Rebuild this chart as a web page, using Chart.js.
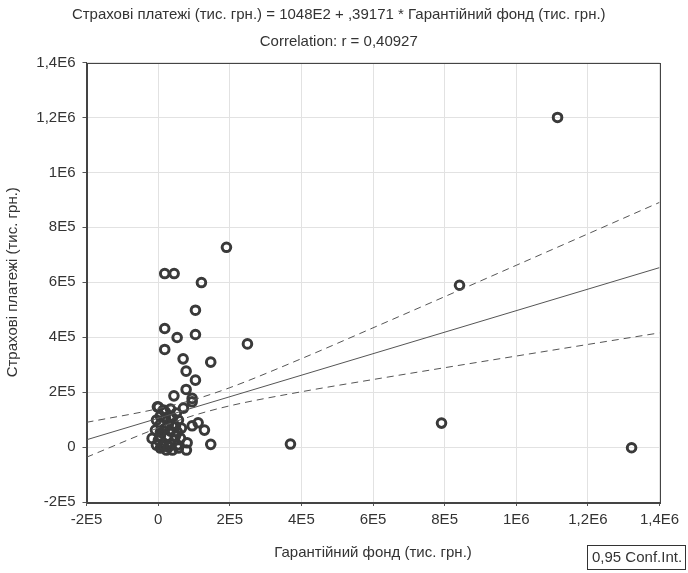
<!DOCTYPE html>
<html>
<head>
<meta charset="utf-8">
<script src="https://cdn.jsdelivr.net/npm/chart.js@4"></script>
<style>
  html, body { margin: 0; padding: 0; background: #fff; }
</style>
</head>
<body>
<canvas id="scatter" width="688" height="573"></canvas>
<script>
// Гарантійний фонд (x) vs Страхові платежі (y), thousand UAH
var fundX = [1115300, 841600, 791300, 1322000, 369500, 249400, 190800, 18400, 44700, 120900,
  104200, 18400, 53100, 104200, 18400, 69800, 146900, 78200, 104200, 78200,
  44100, 95000, 95000, 70700, -2000, 95000, 111700, 129300, 146900, -16800,
  81000, 800, 14800, 34400, 51100, 6400, 20400, 39900, 56700, 6400,
  28800, 48300, 12000, 34400, 53900, 62300, 6400, 26000, 45500, 14800,
  34400, 53900, 79000, 6400, 23200, 39900, 56700, 12000, -4700, 800,
  20400, -7500, 20400, 39900, 6400, 48300, 28800, -4700, 65100, 34400];
var paymentsY = [1200000, 589000, 87300, -2500, 10900, 375600, 727300, 631600, 631600, 598900,
  498200, 431600, 398900, 409800, 355300, 321100, 309100, 276400, 243600, 209800,
  186500, 177100, 164700, 141800, 146500, 77500, 88400, 61800, 9800, 31600,
  15600, 145400, 134500, 138200, 123600, 112700, 105400, 105400, 98200, 83600,
  83600, 76400, 61800, 58200, 54500, 32700, 40000, 36400, 25500, 14500,
  10900, 7300, -10900, -3600, -10900, -10900, -3600, 3600, 7300, 25500,
  69100, 61800, 127300, 80000, 54500, 40000, 0, 98200, 69100, 112700];

// regression from the title: y = 1048E2 + ,39171 * x
var intercept = 104800;
var slope = 0.39171;

// 0,95 confidence band
var bandX = [-200000, 0, 100000, 200000, 400000, 600000, 800000, 1000000, 1200000, 1400000];
var upperY = [90000, 139800, 172700, 216100, 321700, 434000, 547500, 661700, 776100, 890700];
var lowerY = [-37000, 69800, 115300, 150100, 201300, 245800, 288900, 331300, 373600, 415700];

var xTickLabels = ["-2E5", "0", "2E5", "4E5", "6E5", "8E5", "1E6", "1,2E6", "1,4E6"];
var yTickLabels = ["-2E5", "0", "2E5", "4E5", "6E5", "8E5", "1E6", "1,2E6", "1,4E6"];

var textColor = "#333";
var fontFamily = "'Liberation Sans', Arial, sans-serif";
var font15 = { family: fontFamily, size: 15 };

var points = fundX.map(function (x, i) { return { x: x, y: paymentsY[i] }; });
var upper = bandX.map(function (x, i) { return { x: x, y: upperY[i] }; });
var lower = bandX.map(function (x, i) { return { x: x, y: lowerY[i] }; });
var fit = [-200000, 1400000].map(function (x) { return { x: x, y: intercept + slope * x }; });

var frame = {
  id: "frame",
  beforeDatasetsDraw: function (chart) {
    var a = chart.chartArea, ctx = chart.ctx;
    ctx.save();
    ctx.strokeStyle = "#444";
    ctx.lineWidth = 1;
    ctx.strokeRect(Math.round(a.left) + 0.5, Math.round(a.top) + 0.5,
      Math.round(a.right - a.left), Math.round(a.bottom - a.top));
    ctx.restore();
  },
  afterDraw: function (chart) {
    var ctx = chart.ctx;
    ctx.save();
    ctx.fillStyle = "#fff";
    ctx.fillRect(587, 545, 98, 24);
    ctx.strokeStyle = "#333";
    ctx.lineWidth = 1;
    ctx.strokeRect(587.5, 545.5, 98, 24);
    ctx.fillStyle = textColor;
    ctx.font = "15px " + fontFamily;
    ctx.textBaseline = "middle";
    ctx.fillText("0,95 Conf.Int.", 592, 558);
    ctx.restore();
  }
};

var config = {
  type: "scatter",
  data: {
    datasets: [{
      type: "line",
      label: "fit",
      data: fit,
      borderColor: "#555",
      borderWidth: 1,
      pointRadius: 0,
      fill: false
    }, {
      type: "line",
      label: "upper",
      data: upper,
      borderColor: "#555",
      borderWidth: 1,
      borderDash: [7, 5],
      pointRadius: 0,
      cubicInterpolationMode: "monotone",
      fill: false
    }, {
      type: "line",
      label: "lower",
      data: lower,
      borderColor: "#555",
      borderWidth: 1,
      borderDash: [7, 5],
      pointRadius: 0,
      cubicInterpolationMode: "monotone",
      fill: false
    }, {
      label: "data",
      data: points,
      pointStyle: "circle",
      pointRadius: 4.3,
      pointBorderWidth: 3,
      borderColor: "#3a3a3a",
      backgroundColor: "rgba(0,0,0,0)"
    }]
  },
  options: {
    responsive: false,
    animation: false,
    layout: { padding: { left: 18, right: 28.5, top: 0, bottom: 0 } },
    plugins: {
      legend: { display: false },
      tooltip: { enabled: false },
      title: {
        display: true,
        text: "Страхові платежі (тис. грн.) = 1048E2 + ,39171 * Гарантійний фонд (тис. грн.)",
        color: textColor,
        font: { family: fontFamily, size: 15, weight: "normal" },
        padding: { top: 6, bottom: 4 }
      },
      subtitle: {
        display: true,
        text: "Correlation: r = 0,40927",
        color: textColor,
        font: font15,
        padding: { top: 4.7, bottom: 11.8 }
      }
    },
    scales: {
      x: {
        type: "linear",
        min: -200000,
        max: 1400000,
        afterFit: function (scale) { scale.height = 71; },
        ticks: {
          stepSize: 200000,
          autoSkip: false,
          maxRotation: 0,
          color: textColor,
          font: font15,
          padding: 5,
          callback: function (v, i) { return xTickLabels[i]; }
        },
        grid: { color: "#e2e2e2", tickColor: "#555", tickLength: 4 },
        border: { color: "#444" },
        title: {
          display: true,
          text: "Гарантійний фонд (тис. грн.)",
          color: textColor,
          font: font15,
          padding: { top: 0, bottom: 11 }
        }
      },
      y: {
        type: "linear",
        min: -200000,
        max: 1400000,
        afterFit: function (scale) { scale.width = 68.5; },
        ticks: {
          stepSize: 200000,
          autoSkip: false,
          color: textColor,
          font: font15,
          padding: 7,
          callback: function (v, i) { return yTickLabels[i]; }
        },
        grid: { color: "#e2e2e2", tickColor: "#555", tickLength: 4 },
        border: { color: "#444" },
        title: {
          display: true,
          text: "Страхові платежі (тис. грн.)",
          color: textColor,
          font: font15,
          padding: { top: -14, bottom: 0 }
        }
      }
    }
  },
  plugins: [frame]
};

var scatterChart = new Chart(document.getElementById("scatter"), config);
</script>
</body>
</html>
